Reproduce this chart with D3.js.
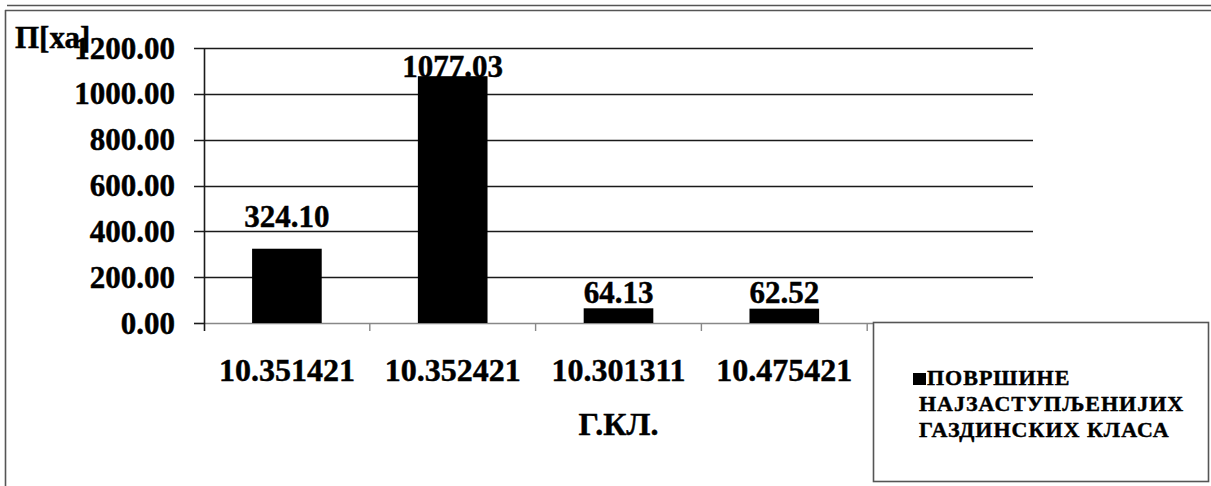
<!DOCTYPE html>
<html>
<head>
<meta charset="utf-8">
<script src="https://cdn.jsdelivr.net/npm/d3@7"></script>
<style>
  html, body { margin: 0; padding: 0; background: #fff; }
  svg { display: block; }
  text { font-family: "Liberation Serif", Tinos, "DejaVu Serif", serif; font-weight: bold; fill: #000; stroke: #000; stroke-width: 0.45px; }
</style>
</head>
<body>
<svg id="chart" width="1211" height="486"></svg>
<script>
// Category codes (Г.КЛ.) and their areas in hectares
const categories = ["10.351421", "10.352421", "10.301311", "10.475421"];
const areas = [324.10, 1077.03, 64.13, 62.52];
const yTicks = [0, 200, 400, 600, 800, 1000, 1200];
const seriesName = ["ПОВРШИНЕ", "НАЈЗАСТУПЉЕНИЈИХ", "ГАЗДИНСКИХ КЛАСА"];
const yAxisTitle = "П[ха]";
const xAxisTitle = "Г.КЛ.";

const W = 1211, H = 486;
const plot = { left: 204, right: 1033, top: 48, bottom: 323 };
const slotCount = 5; // the category axis reserves one more slot than there are categories
const slotW = (plot.right - plot.left) / slotCount;
// distance between each value label's baseline and its bar top
const labelLift = [23, 0, 6, 7];

const svg = d3.select("#chart");

// Outer frame
const frame = svg.append("g").attr("fill", "none").attr("stroke", "#555").attr("stroke-width", 1.6);
frame.append("line").attr("x1", 7).attr("x2", W).attr("y1", 5.5).attr("y2", 5.5);
frame.append("line").attr("x1", 5).attr("x2", W).attr("y1", 10.5).attr("y2", 10.5);
frame.append("line").attr("x1", 5.5).attr("x2", 5.5).attr("y1", 10).attr("y2", H);

const y = d3.scaleLinear().domain([0, 1200]).range([plot.bottom, plot.top]);
const x = d3.scaleBand()
  .domain(categories)
  .range([plot.left, plot.left + slotW * categories.length])
  .paddingInner(0.58).paddingOuter(0.29);

// Horizontal gridlines
svg.append("g").selectAll("line").data(yTicks.filter(d => d > 0)).join("line")
  .attr("x1", plot.left - 10).attr("x2", plot.right)
  .attr("y1", d => Math.round(y(d)) + 0.5).attr("y2", d => Math.round(y(d)) + 0.5)
  .attr("stroke", "#1a1a1a").attr("stroke-width", 1.6);

// Category axis line and boundary ticks
svg.append("line")
  .attr("x1", plot.left).attr("x2", plot.right)
  .attr("y1", plot.bottom + 0.5).attr("y2", plot.bottom + 0.5)
  .attr("stroke", "#888").attr("stroke-width", 1.4);
svg.append("g").selectAll("line").data(d3.range(1, slotCount + 1)).join("line")
  .attr("x1", i => plot.left + i * slotW).attr("x2", i => plot.left + i * slotW)
  .attr("y1", plot.bottom).attr("y2", plot.bottom + 8)
  .attr("stroke", "#888").attr("stroke-width", 1.4);
svg.append("line")
  .attr("x1", plot.left - 10).attr("x2", plot.left)
  .attr("y1", plot.bottom + 0.5).attr("y2", plot.bottom + 0.5)
  .attr("stroke", "#1a1a1a").attr("stroke-width", 1.6);

// Bars
svg.append("g").selectAll("rect").data(areas).join("rect")
  .attr("x", (d, i) => x(categories[i]))
  .attr("width", x.bandwidth())
  .attr("y", d => y(d))
  .attr("height", d => y(0) - y(d))
  .attr("fill", "#000");

// Value axis line
svg.append("line")
  .attr("x1", plot.left + 0.5).attr("x2", plot.left + 0.5)
  .attr("y1", plot.top).attr("y2", plot.bottom + 8)
  .attr("stroke", "#1a1a1a").attr("stroke-width", 1.6);

// Value axis labels
svg.append("g").selectAll("text").data(yTicks).join("text")
  .attr("x", 175).attr("y", d => y(d))
  .attr("dy", "0.34em")
  .attr("text-anchor", "end")
  .style("font-size", "31px")
  .text(d => d3.format(".2f")(d));

// Value labels over bars
svg.append("g").selectAll("text").data(areas).join("text")
  .attr("x", (d, i) => x(categories[i]) + x.bandwidth() / 2)
  .attr("y", (d, i) => y(d) - labelLift[i] + 1)
  .attr("text-anchor", "middle")
  .style("font-size", "31px")
  .text(d => d3.format(".2f")(d));

// Category labels
svg.append("g").selectAll("text").data(categories).join("text")
  .attr("x", d => x(d) + x.bandwidth() / 2)
  .attr("y", 381)
  .attr("text-anchor", "middle")
  .style("font-size", "32px")
  .text(d => d);

// Axis titles
svg.append("text")
  .attr("x", (plot.left + plot.right) / 2).attr("y", 435)
  .attr("text-anchor", "middle")
  .style("font-size", "32px")
  .text(xAxisTitle);
svg.append("text")
  .attr("x", 15).attr("y", 48)
  .style("font-size", "31px")
  .text(yAxisTitle);

// Legend
const legend = svg.append("g");
legend.append("rect")
  .attr("x", 873.5).attr("y", 322.5).attr("width", 335).attr("height", 159)
  .attr("fill", "#fff").attr("stroke", "#555").attr("stroke-width", 1.6);
legend.append("rect")
  .attr("x", 913).attr("y", 373).attr("width", 13).attr("height", 12)
  .attr("fill", "#000");
legend.append("g").selectAll("text").data(seriesName).join("text")
  .attr("x", (d, i) => i === 0 ? 927 : 919)
  .attr("y", (d, i) => 385 + i * 26)
  .style("font-size", "22px")
  .style("letter-spacing", "1px")
  .text(d => d);
</script>
</body>
</html>
